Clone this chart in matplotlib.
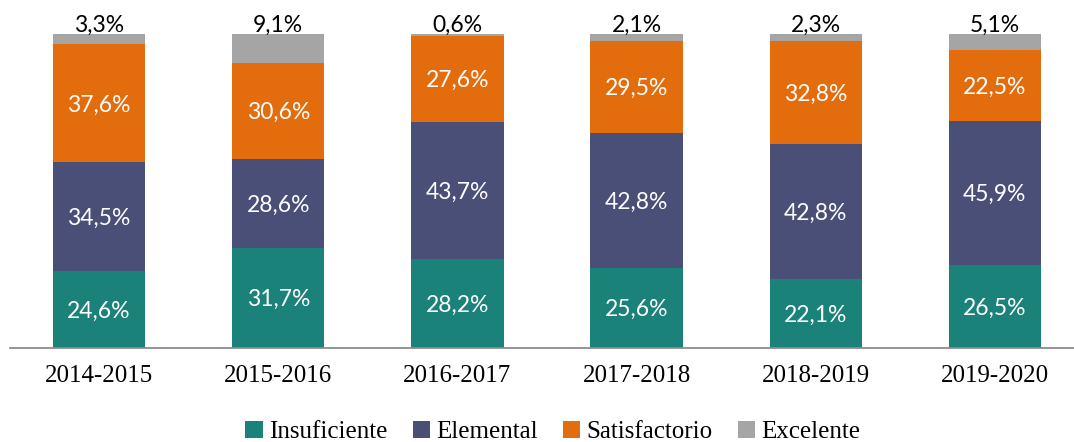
import matplotlib
matplotlib.use("Agg")
import matplotlib.pyplot as plt
import numpy as np

categories = ["2014-2015", "2015-2016", "2016-2017", "2017-2018", "2018-2019", "2019-2020"]
insuficiente = [24.6, 31.7, 28.2, 25.6, 22.1, 26.5]
elemental = [34.5, 28.6, 43.7, 42.8, 42.8, 45.9]
satisfactorio = [37.6, 30.6, 27.6, 29.5, 32.8, 22.5]
excelente = [3.3, 9.1, 0.6, 2.1, 2.3, 5.1]

series = [("Insuficiente", insuficiente, "#1B8279"),
          ("Elemental", elemental, "#494F76"),
          ("Satisfactorio", satisfactorio, "#E36C0C"),
          ("Excelente", excelente, "#A5A5A5")]

fig = plt.figure(figsize=(10.74, 4.42), dpi=100)
ax = fig.add_axes([9.5 / 1074, (442 - 348) / 442, 1075 / 1074, 314 / 442])

x = np.arange(len(categories))
bottom = np.zeros(len(categories))
label_font = "Lato"
for name, vals, col in series:
    vals = np.array(vals)
    ax.bar(x, vals, 0.515, bottom=bottom, color=col, label=name, zorder=2)
    for xi, b, v in zip(x, bottom, vals):
        s = f"{v:.1f}%".replace(".", ",")
        if name == "Excelente":
            ax.text(xi, b + v - 0.6, s, ha="center", va="bottom", fontsize=16.5,
                    family=label_font, color="black")
        else:
            ax.text(xi, b + v / 2 - 0.5, s, ha="center", va="center", fontsize=16.5,
                    family=label_font, color="white")
    bottom += vals

ax.set_xlim(-0.5, len(categories) - 0.5)
ax.set_ylim(0, 100)
for sp in ["top", "right", "left"]:
    ax.spines[sp].set_visible(False)
ax.spines["bottom"].set_color("#8C8C8C")
ax.spines["bottom"].set_linewidth(1.3)
ax.set_yticks([])
ax.set_xticks(x)
ax.set_xticklabels(categories, family="Liberation Serif", fontsize=18)
ax.tick_params(axis="x", length=0, pad=12)

handles, labels = ax.get_legend_handles_labels()
fig.legend(handles, labels, loc="center", bbox_to_anchor=(553 / 1074, 1 - 432 / 442),
           ncol=4, frameon=False, prop={"family": "Liberation Serif", "size": 18},
           handlelength=0.7, handleheight=0.7, handletextpad=0.25, columnspacing=1.0)

fig.savefig("out.png", dpi=100)
